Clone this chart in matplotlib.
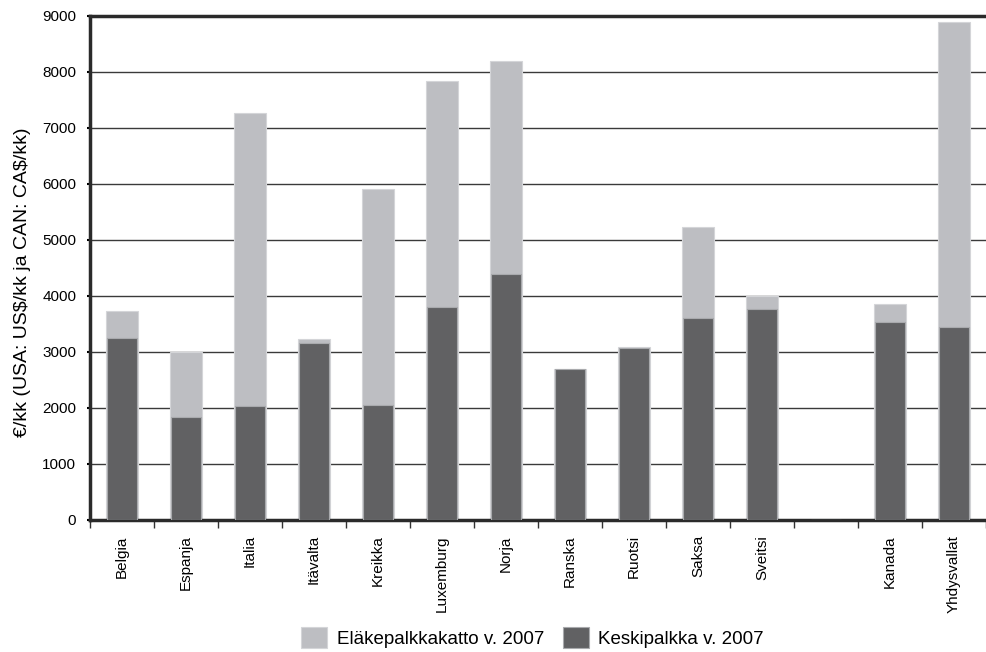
import matplotlib.pyplot as plt
import numpy as np

plt.rcParams["font.family"] = ["Liberation Sans", "DejaVu Sans"]

countries = ["Belgia", "Espanja", "Italia", "Itävalta", "Kreikka", "Luxemburg", "Norja",
             "Ranska", "Ruotsi", "Saksa", "Sveitsi", "", "Kanada", "Yhdysvallat"]
pension_cap = [3740, 3000, 7260, 3230, 5910, 7840, 8190, 2690, 3090, 5240, 4000, 0, 3850, 8890]
avg_wage = [3250, 1840, 2030, 3160, 2060, 3800, 4400, 2700, 3070, 3600, 3760, 0, 3530, 3450]

light = "#bdbec2"
dark = "#616163"

fig = plt.figure(figsize=(9.86, 6.52), dpi=100)
ax = fig.add_axes([0.0913, 0.2025, 0.9087, 0.773])

x = np.arange(len(countries))
ax.bar(x, pension_cap, width=0.5, color=light, edgecolor="#d4d5d8", linewidth=0.8,
       label="Eläkepalkkakatto v. 2007", zorder=2)
ax.bar(x, avg_wage, width=0.46, color=dark, edgecolor="#a9aaad", linewidth=0.8,
       label="Keskipalkka v. 2007", zorder=3)

ax.set_xlim(-0.5, len(countries) - 0.5)
ax.set_ylim(0, 9000)
ax.set_yticks(np.arange(0, 9001, 1000))
ax.tick_params(axis="y", labelsize=11, length=2, width=1.5, pad=8)
ax.yaxis.grid(True, color="#3a3a3a", linewidth=1.0, zorder=1)
ax.set_axisbelow(True)

ax.set_xticks(x)
ax.set_xticklabels(countries, rotation=90, fontsize=11)
ax.tick_params(axis="x", length=0, pad=11)
ax.set_xticks(np.arange(-0.5, len(countries), 1), minor=True)
ax.tick_params(axis="x", which="minor", length=6, width=1, color="#333333", direction="out")

for side in ["left", "bottom", "top"]:
    ax.spines[side].set_linewidth(2.5)
    ax.spines[side].set_color("#2a2a2a")
ax.spines["right"].set_visible(False)

ax.set_ylabel(r"€/kk (USA: US\$/kk ja CAN: CA\$/kk)", fontsize=14)
ax.yaxis.set_label_coords(-0.066, 0.472)

handles, labels = ax.get_legend_handles_labels()
fig.legend(handles, labels, loc="lower center", bbox_to_anchor=(0.54, -0.02), ncol=2,
           frameon=False, fontsize=13.5, handlelength=1.4, handleheight=1.4,
           handletextpad=0.5, columnspacing=1.0)

fig.savefig("out.png", dpi=100)
